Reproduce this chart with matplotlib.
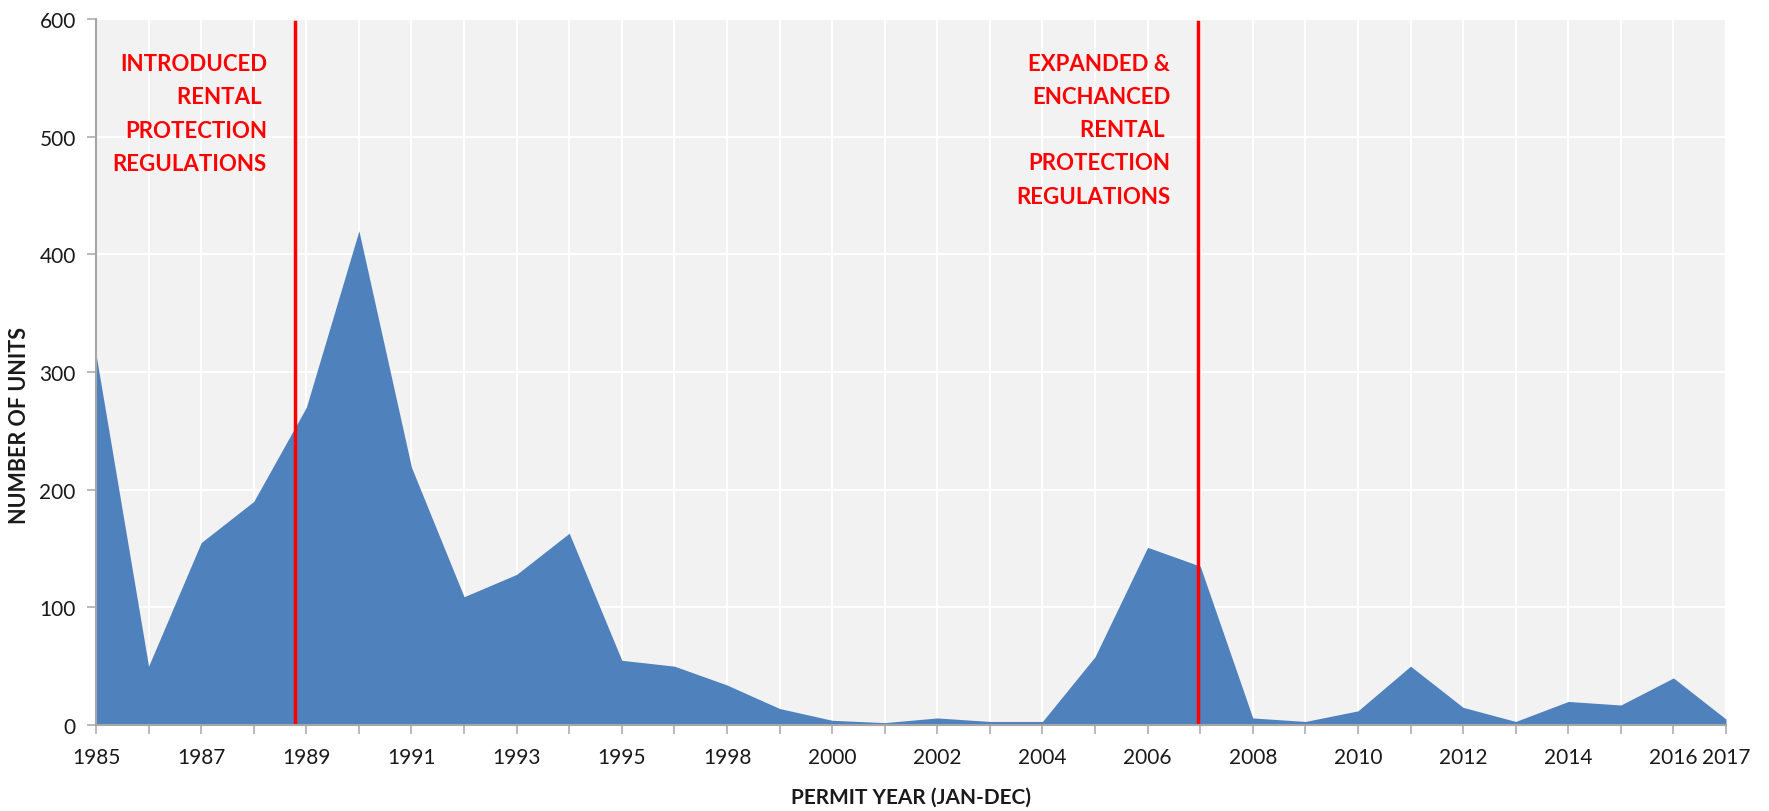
import numpy as np
import matplotlib
matplotlib.use("Agg")
import matplotlib.pyplot as plt

# Permit years (one category falls between 1995 and 1998)
years = ["1985", "1986", "1987", "1988", "1989", "1990", "1991", "1992",
         "1993", "1994", "1995", "1996-97", "1998", "1999", "2000", "2001",
         "2002", "2003", "2004", "2005", "2006", "2007", "2008", "2009",
         "2010", "2011", "2012", "2013", "2014", "2015", "2016", "2017"]

# Number of units permitted per year
units = [315, 50, 155, 190, 270, 420, 219, 109, 128, 163, 55, 50, 34, 14, 4, 2,
         6, 3, 3, 58, 151, 135, 6, 3, 12, 50, 15, 3, 20, 17, 40, 5]

# Regulation milestones (position on the category axis) and their notes
event_positions = [3.78, 20.96]
event_labels = ["INTRODUCED\nRENTAL \nPROTECTION\nREGULATIONS",
                "EXPANDED &\nENCHANCED\nRENTAL \nPROTECTION\nREGULATIONS"]
# baseline of each note's last line, in units
event_label_y = [472, 444]

y_ticks = [0, 100, 200, 300, 400, 500, 600]

plt.rcParams["font.family"] = ["Lato", "DejaVu Sans"]

W, H = 1769, 812
fig = plt.figure(figsize=(W / 100, H / 100), dpi=100)
ax = fig.add_axes([96 / W, 86 / H, 1630 / W, 706 / H])

x = np.arange(len(years))
ax.fill_between(x, units, 0, color="#4F81BD", linewidth=0, zorder=2)

ax.set_xlim(0, len(years) - 1)
ax.set_ylim(0, 600)
ax.set_facecolor("#F2F2F2")

tick_labels = [y if (i % 2 == 0 or i == len(years) - 1) else ""
               for i, y in enumerate(years)]
ax.set_xticks(x)
ax.set_xticklabels(tick_labels)
ax.set_yticks(y_ticks)

ax.grid(True, color="white", linewidth=1.5, zorder=1)
ax.set_axisbelow(True)

for side in ("top", "right"):
    ax.spines[side].set_visible(False)
for side in ("left", "bottom"):
    ax.spines[side].set_color("#A6A6A6")
    ax.spines[side].set_linewidth(1.5)
    ax.spines[side].set_zorder(4)

ax.tick_params(axis="both", direction="out", length=6.5, width=1.1,
               color="#A6A6A6", labelsize=15, labelcolor="#1A1A1A")
ax.tick_params(axis="x", pad=9)
ax.tick_params(axis="y", pad=8)

for pos, label, ly in zip(event_positions, event_labels, event_label_y):
    ax.axvline(pos, ymax=0.996, color="#FF0000", linewidth=2.5, zorder=3)
    ax.annotate(label, xy=(pos, ly), xytext=(-20, 0),
                textcoords="offset points", ha="right", va="baseline",
                multialignment="right", color="#FF0000", fontsize=16,
                fontweight="bold", linespacing=1.71, zorder=5)

fig.text(20 / W, 1 - 426 / H, "NUMBER OF UNITS", rotation=90,
         ha="center", va="center", fontsize=15.5, fontweight="bold",
         color="#1A1A1A")
fig.text(911 / W, 1 - 798 / H, "PERMIT YEAR (JAN-DEC)", ha="center",
         va="center", fontsize=15, fontweight="bold", color="#1A1A1A")

fig.savefig("out.png", dpi=100, facecolor="white")
